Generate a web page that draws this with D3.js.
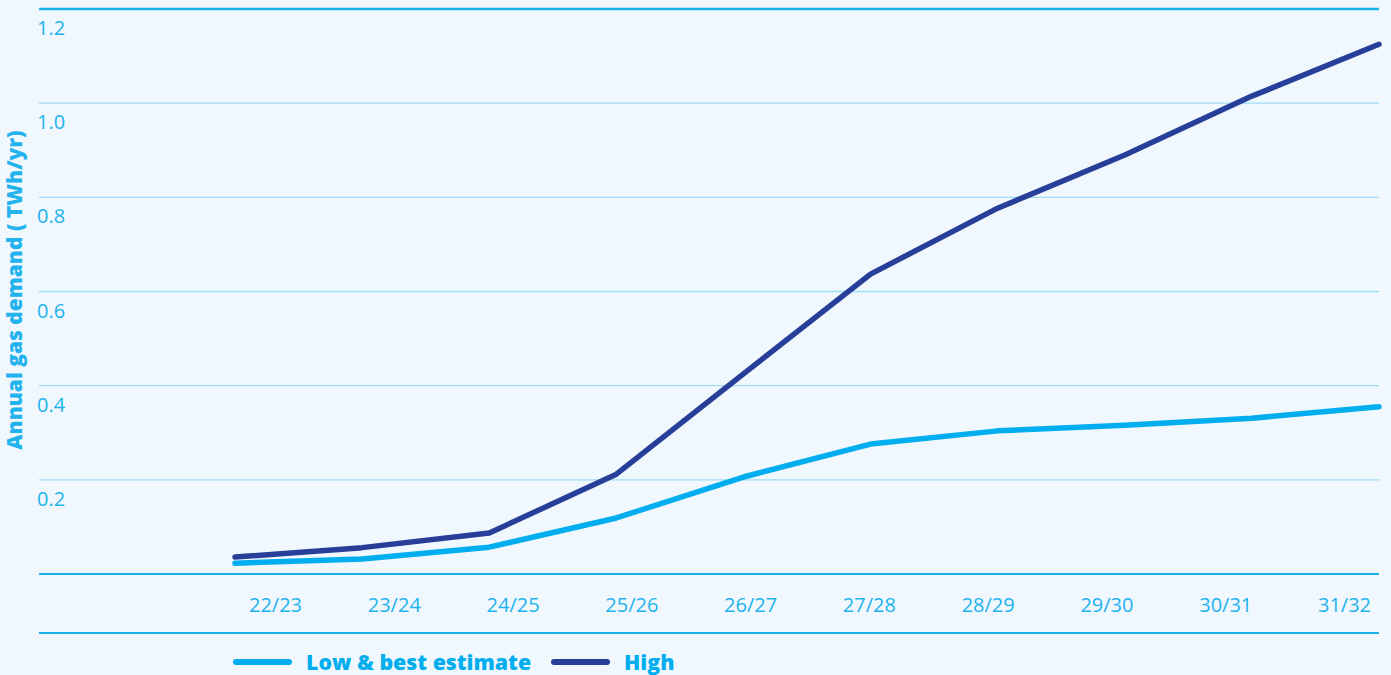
<!DOCTYPE html>
<html>
<head>
<meta charset="utf-8">
<script src="https://cdn.jsdelivr.net/npm/d3@7"></script>
<style>
  html, body { margin: 0; padding: 0; background: #f0f8fe; }
  svg { display: block; font-family: "Open Sans", "Noto Sans", sans-serif; }
</style>
</head>
<body>
<svg id="chart" width="1391" height="675"></svg>
<script>
// Gas demand years and scenario values (TWh/yr)
const years = ["22/23", "23/24", "24/25", "25/26", "26/27", "27/28", "28/29", "29/30", "30/31", "31/32"];
const lowBest = [0.023, 0.032, 0.057, 0.119, 0.206, 0.276, 0.304, 0.316, 0.331, 0.355];
const high = [0.036, 0.056, 0.087, 0.212, 0.425, 0.637, 0.777, 0.890, 1.015, 1.125];
const yTicks = [0.2, 0.4, 0.6, 0.8, 1.0, 1.2];
const seriesNames = ["Low & best estimate", "High"];
const seriesColors = ["#00aeef", "#283f99"];

(function () {
  const svg = d3.select("#chart");
  const textColor = "#22b2ee";
  const plotLeft = 39, plotRight = 1379, plotTop = 9, baseline = 574;

  const y = d3.scaleLinear().domain([0, 1.2]).range([baseline, plotTop]);
  const xLine = d3.scalePoint().domain(years).range([235, plotRight]);
  const xLabel = d3.scalePoint().domain(years).range([275, 1344]);

  // Horizontal gridlines with labels sitting just below each line
  const grid = svg.append("g");
  grid.selectAll("line.grid")
    .data(yTicks)
    .join("line")
    .attr("x1", plotLeft).attr("x2", plotRight)
    .attr("y1", d => y(d)).attr("y2", d => y(d))
    .attr("stroke", d => d === 1.2 ? "#19b0ec" : "#9edcf7")
    .attr("stroke-width", d => d === 1.2 ? 2.5 : 1.3);

  grid.selectAll("text.ytick")
    .data(yTicks)
    .join("text")
    .attr("x", 37)
    .attr("y", d => y(d) + 26)
    .attr("fill", textColor)
    .attr("font-size", 20)
    .attr("font-weight", 400)
    .text(d => d3.format(".1f")(d));

  // Baseline and lower rule
  svg.append("line")
    .attr("x1", plotLeft).attr("x2", plotRight)
    .attr("y1", baseline).attr("y2", baseline)
    .attr("stroke", "#19b0ec").attr("stroke-width", 2.2);
  svg.append("line")
    .attr("x1", plotLeft).attr("x2", plotRight)
    .attr("y1", 633).attr("y2", 633)
    .attr("stroke", "#19b0ec").attr("stroke-width", 2.2);

  // Year labels
  const xAxis = d3.axisBottom(xLabel).tickSize(0).tickPadding(0);
  const xg = svg.append("g").attr("transform", "translate(0,598)").call(xAxis);
  xg.select(".domain").remove();
  xg.selectAll("text")
    .attr("fill", textColor)
    .attr("font-size", 20)
    .attr("font-weight", 400)
    .attr("font-family", "Open Sans, Noto Sans, sans-serif");

  // Y axis title
  svg.append("text")
    .attr("transform", "translate(22,290) rotate(-90)")
    .attr("text-anchor", "middle")
    .attr("fill", textColor)
    .attr("font-size", 21)
    .attr("font-weight", 800)
    .text("Annual gas demand ( TWh/yr)");

  // Scenario lines
  const line = d3.line()
    .x((d, i) => xLine(years[i]))
    .y(d => y(d));

  [lowBest, high].forEach((vals, k) => {
    svg.append("path")
      .datum(vals)
      .attr("d", line)
      .attr("fill", "none")
      .attr("stroke", seriesColors[k])
      .attr("stroke-width", 5.5)
      .attr("stroke-linecap", "round")
      .attr("stroke-linejoin", "round");
  });

  // Legend
  const legendX = [236, 554];
  seriesNames.forEach((name, k) => {
    const g = svg.append("g").attr("transform", `translate(${legendX[k]},662)`);
    g.append("line")
      .attr("x1", 0).attr("x2", 53)
      .attr("stroke", seriesColors[k])
      .attr("stroke-width", 6)
      .attr("stroke-linecap", "round");
    g.append("text")
      .attr("x", 70).attr("y", 8)
      .attr("fill", "#00aeef")
      .attr("font-size", 21.3)
      .attr("font-weight", 800)
      .text(name);
  });
})();
</script>
</body>
</html>
